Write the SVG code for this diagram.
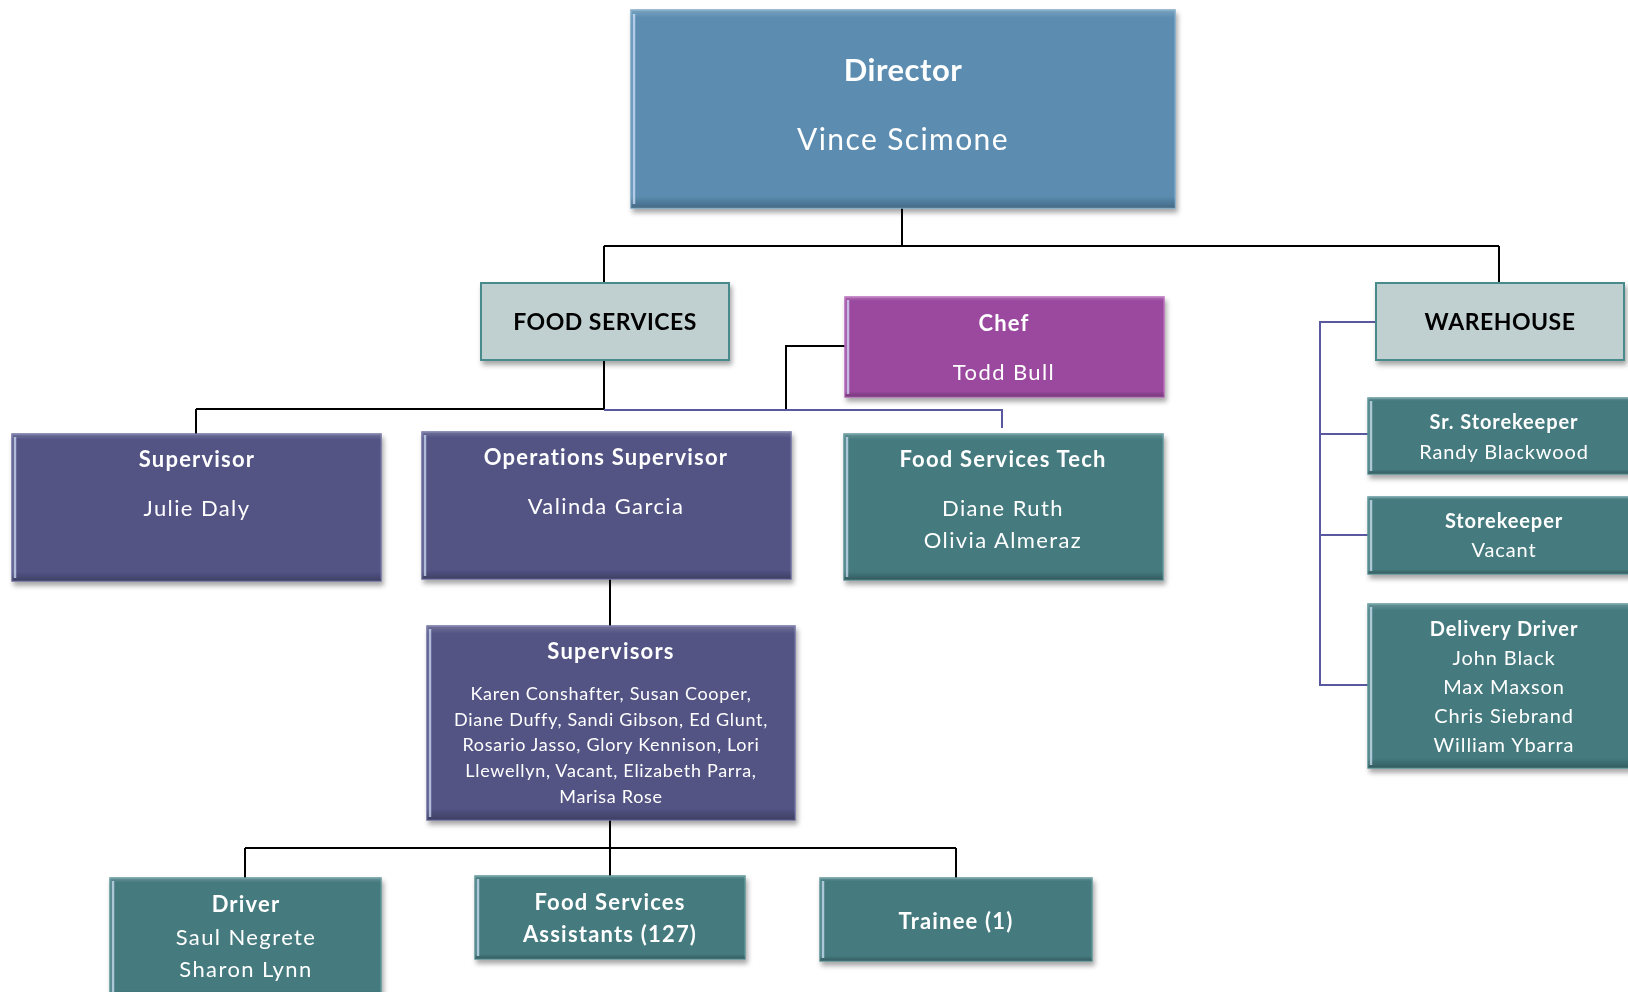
<svg xmlns="http://www.w3.org/2000/svg" width="1628" height="992" viewBox="0 0 1628 992">
<defs>
<filter id="sh" x="-5%" y="-10%" width="115%" height="130%">
<feDropShadow dx="2" dy="4" stdDeviation="2.5" flood-color="#000" flood-opacity="0.35"/>
</filter>
<linearGradient id="bev" x1="0" y1="0" x2="0" y2="1">
<stop offset="0" stop-color="#fff" stop-opacity="0.18"/>
<stop offset="0.04" stop-color="#fff" stop-opacity="0"/>
<stop offset="0.94" stop-color="#000" stop-opacity="0"/>
<stop offset="1" stop-color="#000" stop-opacity="0.25"/>
</linearGradient>
</defs>
<style>
text{font-family:"Lato","Open Sans","Liberation Sans",sans-serif;text-anchor:middle;fill:#fff;font-size:22px;letter-spacing:1.4px}
.b{font-weight:bold;letter-spacing:1.2px}
.s{font-size:20px;letter-spacing:0.9px}
.l{font-size:18px;letter-spacing:0.7px}
.dk{fill:#000;font-weight:bold;font-size:23px;letter-spacing:0.5px}
.blue{fill:#5B8DB1;stroke:#7AA6C6;stroke-width:1.5}
.grey{fill:#C0D0D0;stroke:#4A8A8C;stroke-width:2}
.chef{fill:#9B4A9F;stroke:#B76BBB;stroke-width:1.5}
.pur{fill:#525384;stroke:#6E6FA0;stroke-width:1.5}
.teal{fill:#447A7E;stroke:#5E9598;stroke-width:1.5}
.ov{fill:url(#bev);stroke:none}
.hl{stroke:#D8E8FF;stroke-width:2.5;stroke-opacity:0.7}
.ln{fill:none;stroke:#000;stroke-width:2}
.pl{fill:none;stroke:#5A58A0;stroke-width:2}
</style>

<g id="connectors">
<path class="ln" d="M902 208V246M604 246H1499M604 246V283M1499 246V283"/>
<path class="ln" d="M604 360V409M196 409H604M196 409V434"/>
<path class="ln" d="M845 346H786V409"/>
<path class="pl" d="M604 410H1002V428"/>
<path class="ln" d="M610 579V626"/>
<path class="ln" d="M610 820V848M245 848H956M245 848V878M610 848V876M956 848V878"/>
<path class="pl" d="M1376 322H1320V685H1368M1320 434H1368M1320 535H1368"/>
</g>

<g id="director" filter="url(#sh)">
<rect class="blue" x="631" y="10" width="544" height="198"/>
<rect class="ov" x="631" y="10" width="544" height="198"/>
<line class="hl" x1="634" y1="14" x2="634" y2="204"/>
<text class="b" x="903" y="81" font-size="31" style="font-size:31px;letter-spacing:0.5px">Director</text>
<text x="903" y="150" style="font-size:30px;letter-spacing:1.4px">Vince Scimone</text>
</g>

<g id="food-services" filter="url(#sh)">
<rect class="grey" x="481" y="283" width="248" height="77"/>
<text class="dk" x="605" y="330">FOOD SERVICES</text>
</g>

<g id="warehouse" filter="url(#sh)">
<rect class="grey" x="1376" y="283" width="248" height="77"/>
<text class="dk" x="1500" y="330">WAREHOUSE</text>
</g>

<g id="chef" filter="url(#sh)">
<rect class="chef" x="845" y="297" width="319" height="100"/>
<rect class="ov" x="845" y="297" width="319" height="100"/>
<line class="hl" x1="848" y1="300" x2="848" y2="394"/>
<text class="b" x="1004" y="331">Chef</text>
<text x="1004" y="380">Todd Bull</text>
</g>

<g id="supervisor" filter="url(#sh)">
<rect class="pur" x="12" y="434" width="369" height="147"/>
<rect class="ov" x="12" y="434" width="369" height="147"/>
<line class="hl" x1="15" y1="437" x2="15" y2="578"/>
<text class="b" x="197" y="467">Supervisor</text>
<text x="197" y="516">Julie Daly</text>
</g>

<g id="operations-supervisor" filter="url(#sh)">
<rect class="pur" x="422" y="432" width="369" height="147"/>
<rect class="ov" x="422" y="432" width="369" height="147"/>
<line class="hl" x1="425" y1="435" x2="425" y2="576"/>
<text class="b" x="606" y="465">Operations Supervisor</text>
<text x="606" y="514">Valinda Garcia</text>
</g>

<g id="food-services-tech" filter="url(#sh)">
<rect class="teal" x="844" y="434" width="319" height="146"/>
<rect class="ov" x="844" y="434" width="319" height="146"/>
<line class="hl" x1="847" y1="437" x2="847" y2="577"/>
<text class="b" x="1003" y="467">Food Services Tech</text>
<text x="1003" y="516">Diane Ruth</text>
<text x="1003" y="548">Olivia Almeraz</text>
</g>

<g id="supervisors" filter="url(#sh)">
<rect class="pur" x="427" y="626" width="368" height="194"/>
<rect class="ov" x="427" y="626" width="368" height="194"/>
<line class="hl" x1="430" y1="629" x2="430" y2="817"/>
<text class="b" x="611" y="659">Supervisors</text>
<text class="l" x="611" y="700">Karen Conshafter, Susan Cooper,</text>
<text class="l" x="611" y="726">Diane Duffy, Sandi Gibson, Ed Glunt,</text>
<text class="l" x="611" y="751">Rosario Jasso, Glory Kennison, Lori</text>
<text class="l" x="611" y="777">Llewellyn, Vacant, Elizabeth Parra,</text>
<text class="l" x="611" y="803">Marisa Rose</text>
</g>

<g id="driver" filter="url(#sh)">
<rect class="teal" x="110" y="878" width="271" height="120"/>
<rect class="ov" x="110" y="878" width="271" height="120"/>
<line class="hl" x1="113" y1="881" x2="113" y2="992"/>
<text class="b" x="246" y="912">Driver</text>
<text x="246" y="945">Saul Negrete</text>
<text x="246" y="977">Sharon Lynn</text>
</g>

<g id="food-services-assistants" filter="url(#sh)">
<rect class="teal" x="475" y="876" width="270" height="83"/>
<rect class="ov" x="475" y="876" width="270" height="83"/>
<line class="hl" x1="478" y1="879" x2="478" y2="956"/>
<text class="b" x="610" y="910">Food Services</text>
<text class="b" x="610" y="942">Assistants (127)</text>
</g>

<g id="trainee" filter="url(#sh)">
<rect class="teal" x="820" y="878" width="272" height="83"/>
<rect class="ov" x="820" y="878" width="272" height="83"/>
<line class="hl" x1="823" y1="881" x2="823" y2="958"/>
<text class="b" x="956" y="929">Trainee (1)</text>
</g>

<g id="sr-storekeeper" filter="url(#sh)">
<rect class="teal" x="1368" y="398" width="270" height="76"/>
<rect class="ov" x="1368" y="398" width="270" height="76"/>
<line class="hl" x1="1371" y1="401" x2="1371" y2="471"/>
<text class="b s" x="1504" y="429">Sr. Storekeeper</text>
<text class="s" x="1504" y="459">Randy Blackwood</text>
</g>

<g id="storekeeper" filter="url(#sh)">
<rect class="teal" x="1368" y="497" width="270" height="77"/>
<rect class="ov" x="1368" y="497" width="270" height="77"/>
<line class="hl" x1="1371" y1="500" x2="1371" y2="571"/>
<text class="b s" x="1504" y="528">Storekeeper</text>
<text class="s" x="1504" y="557">Vacant</text>
</g>

<g id="delivery-driver" filter="url(#sh)">
<rect class="teal" x="1368" y="604" width="270" height="164"/>
<rect class="ov" x="1368" y="604" width="270" height="164"/>
<line class="hl" x1="1371" y1="607" x2="1371" y2="765"/>
<text class="b s" x="1504" y="636">Delivery Driver</text>
<text class="s" x="1504" y="665">John Black</text>
<text class="s" x="1504" y="694">Max Maxson</text>
<text class="s" x="1504" y="723">Chris Siebrand</text>
<text class="s" x="1504" y="752">William Ybarra</text>
</g>
</svg>
